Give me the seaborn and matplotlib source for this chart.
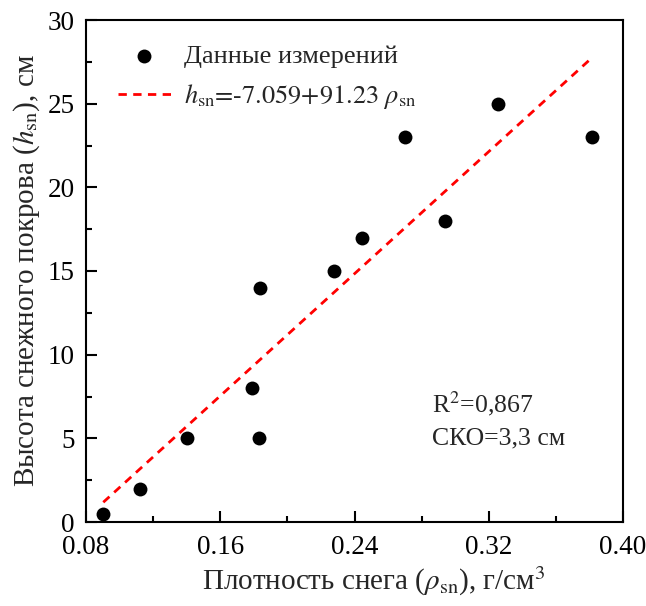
import numpy as np
import pandas as pd
import matplotlib
matplotlib.use("Agg")
import matplotlib.pyplot as plt
from matplotlib.ticker import MultipleLocator
import seaborn as sns

# Measured snow density (g/cm^3) and snow depth (cm)
density = [0.0903, 0.1122, 0.1404, 0.1791, 0.1831, 0.1837,
           0.2278, 0.2447, 0.2701, 0.2939, 0.3257, 0.3817]
depth = [0.5, 2, 5, 8, 5, 14, 15, 17, 23, 18, 25, 23]

# Linear regression coefficients and fit statistics
intercept = -7.059
slope = 91.23
r2_text = "0,867"
rmse_text = "3,3"

sns.set_theme(style="ticks")
plt.rcParams["font.family"] = ["Liberation Serif", "DejaVu Serif"]
plt.rcParams["mathtext.fontset"] = "stix"

df = pd.DataFrame({"rho": density, "h": depth})
x_fit = np.array([min(density), max(density)])
fit = pd.DataFrame({"rho": x_fit, "h": intercept + slope * x_fit})

fig = plt.figure(figsize=(6.46, 6.06), dpi=100)
ax = fig.add_axes([86 / 646, 84 / 606, 537 / 646, 502 / 606])

sns.scatterplot(data=df, x="rho", y="h", ax=ax, color="black", s=100,
                edgecolor="black", linewidth=0, label="Данные измерений", zorder=3)
fit_label = (r"$h_{\mathrm{sn}}\text{=-%.3f+%.2f }\rho_{\mathrm{sn}}$"
             % (-intercept, slope))
sns.lineplot(data=fit, x="rho", y="h", ax=ax, color="#ff0000", lw=2.0,
             dashes=False, label=fit_label)
ax.lines[-1].set_dashes((3.0, 2.3))

ax.set_xlim(0.08, 0.40)
ax.set_ylim(0, 30)
ax.xaxis.set_major_locator(MultipleLocator(0.08))
ax.xaxis.set_minor_locator(MultipleLocator(0.04))
ax.yaxis.set_major_locator(MultipleLocator(5))
ax.yaxis.set_minor_locator(MultipleLocator(2.5))
ax.set_xticklabels([f"{v:.2f}" for v in ax.get_xticks()])

ax.tick_params(which="both", direction="in", top=False, right=False,
               labelsize=19.5, width=1.5, colors="black")
ax.tick_params(which="major", length=8)
ax.tick_params(which="minor", length=4)
ax.tick_params(axis="x", which="major", pad=9)
ax.tick_params(axis="y", which="major", pad=8)
for sp in ax.spines.values():
    sp.set_visible(True)
    sp.set_linewidth(1.5)
    sp.set_color("black")

ax.set_xlabel(r"Плотность снега ($\rho_{\mathrm{sn}}$), г/см$^3$", fontsize=21)
ax.xaxis.set_label_coords(0.536, -0.085)
ax.set_ylabel(r"Высота снежного покрова ($h_{\mathrm{sn}}$), см", fontsize=21, labelpad=4)

leg = ax.legend(loc="upper left", frameon=False, fontsize=19,
                bbox_to_anchor=(0.03, 0.983), handlelength=2.0,
                handletextpad=0.5, labelspacing=0.55, borderaxespad=0.2)

ax.text(0.644, 0.235, f"R$^2$={r2_text}", transform=ax.transAxes,
        fontsize=18.5, va="center", ha="left")
ax.text(0.644, 0.166, f"СКО={rmse_text} см", transform=ax.transAxes,
        fontsize=18.5, va="center", ha="left")

fig.savefig("out.png", dpi=100)
